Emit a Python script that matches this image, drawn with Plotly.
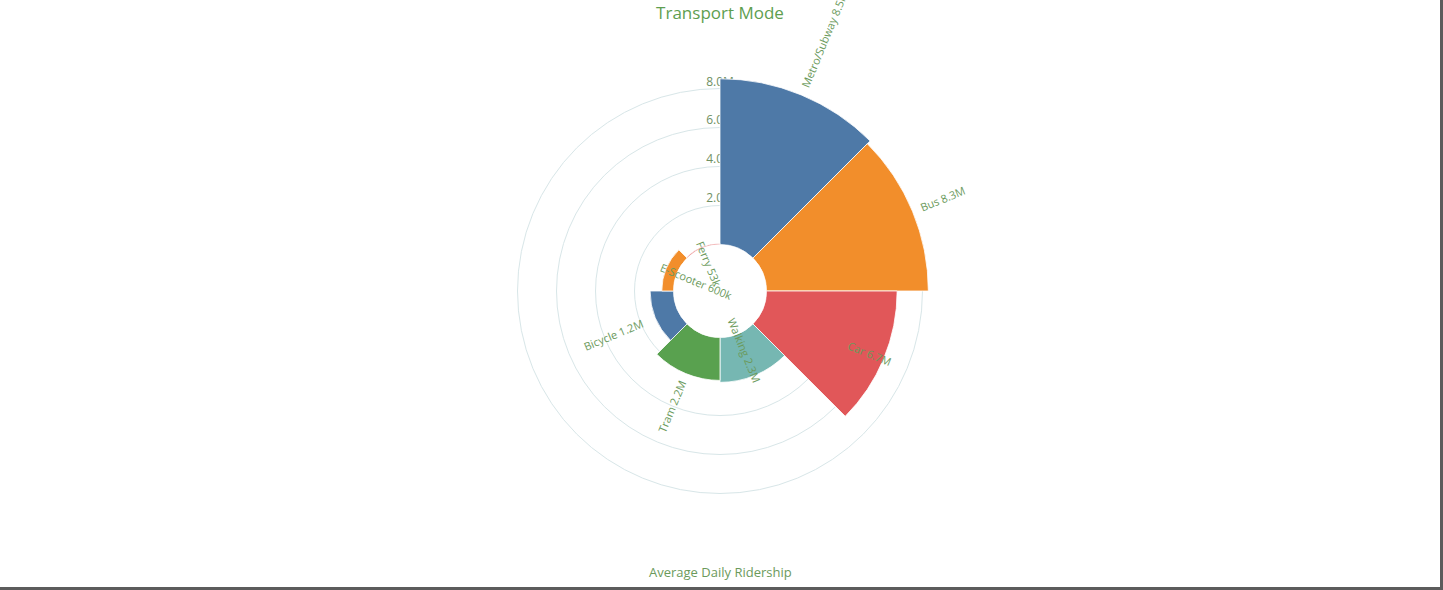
import math
import plotly.graph_objects as go

# ---------------- data ----------------
CATEGORIES = ["Metro/Subway", "Bus", "Car", "Walking", "Tram", "Bicycle", "E-Scooter", "Ferry"]
RIDERSHIP = [8500000, 8300000, 6700000, 2300000, 2200000, 1200000, 600000, 53000]
VALUE_LABELS = ["8.5M", "8.3M", "6.7M", "2.3M", "2.2M", "1.2M", "600k", "53k"]
TICK_VALUES = [2000000, 4000000, 6000000, 8000000]
TICK_LABELS = ["2.0M", "4.0M", "6.0M", "8.0M"]
TITLE = "Transport Mode"
AXIS_TITLE = "Average Daily Ridership"

# ---------------- style / geometry ----------------
PALETTE = ["#4e79a7", "#f28e2b", "#e15759", "#76b7b2", "#59a14f"]
COLORS = [PALETTE[i % len(PALETTE)] for i in range(len(CATEGORIES))]
TEXT_COLOR = "#6b9a5c"
TITLE_COLOR = "#5e9e50"
GRID_COLOR = "#d8e6e8"
FONT = "Open Sans"

W, H = 1443, 590
CX, CY = 720, 291          # centre of the polar area (px from left / top)
HOLE_PX = 46.5             # radius of the hole
PX_PER_UNIT = 19.5 / 1e6   # px per rider
RMAX = 8.6e6
R_PX = HOLE_PX + RMAX * PX_PER_UNIT
HOLE = HOLE_PX / R_PX
ROTATION = 67.5            # angle of the first category centre
LABEL_GAP = 9
CHAR_W = 6.0
LABEL_SIZE = 11

dom_x = [(CX - R_PX) / W, (CX + R_PX) / W]
dom_y = [(H - CY - R_PX) / H, (H - CY + R_PX) / H]

fig = go.Figure()

# radial tick labels (drawn in the lower polar subplot, under the bars)
fig.add_trace(go.Scatterpolar(
    r=TICK_VALUES, theta=[90] * len(TICK_VALUES), mode="text",
    text=TICK_LABELS, textposition="top center",
    textfont=dict(family=FONT, size=12, color="#6f8f62"),
    hoverinfo="skip", showlegend=False, subplot="polar",
))

# bars
fig.add_trace(go.Barpolar(
    r=RIDERSHIP, theta=CATEGORIES,
    marker=dict(color=COLORS, line=dict(color="white", width=0.8)),
    hoverinfo="skip", showlegend=False, subplot="polar2",
))

# rotated value labels
n = len(CATEGORIES)
annotations = []
for i, (cat, val, vl) in enumerate(zip(CATEGORIES, RIDERSHIP, VALUE_LABELS)):
    text = f"{cat} {vl}"
    theta = ROTATION - i * 360.0 / n
    t = math.radians(theta)
    end_px = HOLE_PX + val * PX_PER_UNIT
    anchor = end_px + LABEL_GAP
    s = 1 if math.sin(2 * t) > 0 else -1
    L = len(text) * CHAR_W
    rc = anchor + s * L / 2
    x = CX + rc * math.cos(t)
    y = CY - rc * math.sin(t)
    if math.cos(t) >= 0:
        ang = -theta
    else:
        ang = -(theta - 180)
    while ang > 90:
        ang -= 180
    while ang < -90:
        ang += 180
    annotations.append(dict(
        x=x / W, y=1 - y / H, xref="paper", yref="paper",
        text=text, showarrow=False, textangle=ang,
        xanchor="center", yanchor="middle",
        font=dict(family=FONT, size=LABEL_SIZE, color=TEXT_COLOR),
    ))

annotations.append(dict(
    x=CX / W, y=1 - 572 / H, xref="paper", yref="paper",
    text=AXIS_TITLE, showarrow=False, xanchor="center", yanchor="middle",
    font=dict(family=FONT, size=13, color=TEXT_COLOR),
))

hidden_axis = dict(showgrid=False, showline=False, showticklabels=False, ticks="")

fig.update_layout(
    width=W, height=H,
    margin=dict(l=0, r=0, t=0, b=0),
    paper_bgcolor="white",
    font=dict(family=FONT, color=TEXT_COLOR),
    title=dict(text=TITLE, x=CX / W, xanchor="center", y=1 - 13 / H, yanchor="middle",
               yref="container", font=dict(family=FONT, size=17, color=TITLE_COLOR)),
    polar=dict(
        domain=dict(x=dom_x, y=dom_y), hole=HOLE, bgcolor="white",
        radialaxis=dict(range=[0, RMAX], tickvals=TICK_VALUES, showgrid=True,
                        gridcolor=GRID_COLOR, gridwidth=1, showline=False,
                        showticklabels=False, ticks=""),
        angularaxis=dict(type="linear", rotation=0, direction="counterclockwise",
                         **hidden_axis),
    ),
    polar2=dict(
        domain=dict(x=dom_x, y=dom_y), hole=HOLE, bgcolor="rgba(0,0,0,0)", bargap=0,
        radialaxis=dict(range=[0, RMAX], **hidden_axis),
        angularaxis=dict(type="category", categoryarray=CATEGORIES, categoryorder="array",
                         rotation=ROTATION, direction="clockwise", **hidden_axis),
    ),
    annotations=annotations,
    shapes=[
        dict(type="rect", xref="paper", yref="paper", x0=1440 / W, x1=1, y0=0, y1=1,
             fillcolor="#5c5c5c", line=dict(width=0)),
        dict(type="rect", xref="paper", yref="paper", x0=0, x1=1, y0=0, y1=3 / H,
             fillcolor="#5c5c5c", line=dict(width=0)),
    ],
)

fig.write_html("out.html", config={"displayModeBar": False},
               post_script="document.body.style.margin='0';document.body.style.overflow='hidden';")
